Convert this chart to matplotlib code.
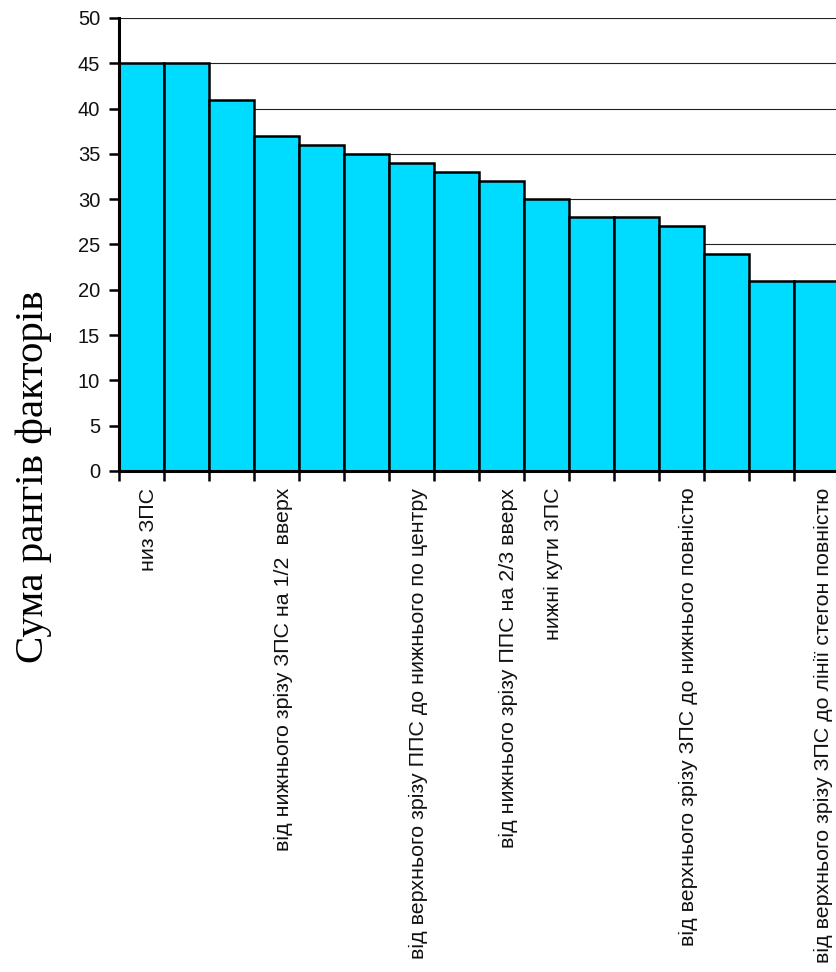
import matplotlib
matplotlib.use("Agg")
import matplotlib.pyplot as plt
import matplotlib.transforms as mtransforms
import numpy as np

# sums of factor ranks, sorted
values = [45, 45, 41, 37, 36, 35, 34, 33, 32, 30, 28, 28, 27, 24, 21, 21]
# only some category names are shown on the axis (others skipped)
labels = [
    "низ ЗПС", "", "", "від нижнього зрізу ЗПС на 1/2  вверх", "", "",
    "від верхнього зрізу ППС до нижнього по центру", "",
    "від нижнього зрізу ППС на 2/3 вверх", "нижні кути ЗПС", "", "",
    "від верхнього зрізу ЗПС до нижнього повністю", "", "",
    "від верхнього зрізу ЗПС до лінії стегон повністю",
]
y_ticks = list(range(0, 51, 5))
y_label = "Сума рангів факторів"

W, H = 837, 972
fig = plt.figure(figsize=(W / 100, H / 100), dpi=100)
ax = fig.add_axes([119 / W, 1 - 471 / H, 720 / W, 453 / H])

x = np.arange(len(values))
ax.bar(x, values, width=1.0, align="edge", color="#00DCFF",
       edgecolor="black", linewidth=1.8, zorder=2)

ax.set_xlim(0, len(values))
ax.set_ylim(0, 50)
ax.set_yticks(y_ticks)
ax.yaxis.grid(True, color="#222222", linewidth=0.8, zorder=0)
ax.set_axisbelow(True)

for s in ["top", "right"]:
    ax.spines[s].set_visible(False)
for s in ["left", "bottom"]:
    ax.spines[s].set_linewidth(2.2)

# ticks at bar edges, labels at centres
ax.set_xticks(np.arange(len(values) + 1), minor=True)
ax.set_xticks(x + 0.5)
ax.set_xticklabels(labels, rotation=90, va="top", ha="center",
                   fontsize=15.4, family="Liberation Sans", color="#111111")
ax.tick_params(axis="x", which="major", length=0, pad=12)
ax.tick_params(axis="x", which="minor", length=7.5, width=1.8, direction="out")
ax.tick_params(axis="y", length=7.5, width=1.8, direction="out", pad=6,
               labelsize=14.5, labelcolor="#111111")
for t in ax.get_yticklabels():
    t.set_family("Liberation Sans")

offset = mtransforms.ScaledTranslation(0.065, 0, fig.dpi_scale_trans)
for t in ax.get_xticklabels():
    t.set_transform(t.get_transform() + offset)

fig.text(34 / W, 1 - 477 / H, y_label, rotation=90, ha="center", va="center",
         fontsize=29.5, family="Liberation Serif")

fig.savefig("out.png", dpi=100)
